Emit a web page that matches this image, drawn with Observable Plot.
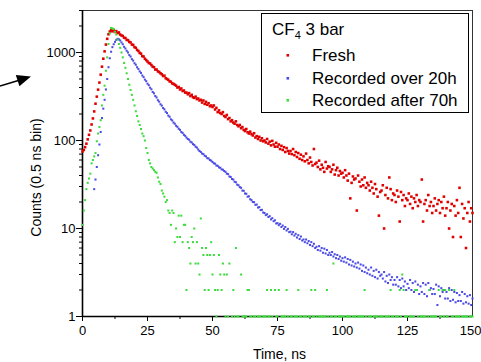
<!DOCTYPE html>
<html><head><meta charset="utf-8">
<script src="https://cdn.jsdelivr.net/npm/d3@7"></script>
<script src="https://cdn.jsdelivr.net/npm/@observablehq/plot@0.6"></script>
<style>body{margin:0;background:#fff}#chart{width:481px;height:362px}</style>
</head><body><div id="chart"></div>
<script>
// time bins: 0.5 ns, starting at 0 ns
const tStart = 0, tStep = 0.5;

const fresh = [
75,78,84,92,103,116,130,152,178,214,
262,315,378,455,560,690,850,1030,1230,1430,
1610,1730,1790,1740,1800,1710,1750,1660,1690,1600,
1560,1540,1470,1460,1390,1380,1320,1300,1230,1220,
1150,1130,1070,1040,990,970,910,900,850,820,
790,760,750,720,690,680,640,640,610,600,
580,565,540,545,510,500,490,470,465,445,
440,430,420,400,405,380,390,365,370,350,
350,335,345,320,330,310,305,315,295,300,
285,290,270,285,260,275,255,265,245,250,
240,250,225,235,210,220,205,200,210,190,
185,195,175,180,165,170,160,155,165,150,
145,150,138,142,132,128,135,124,120,126,
118,114,121,108,112,104,110,100,106,98,
100,95,104,92,97,88,99,90,85,94,
85,90,80,87,78,84,74,82,76,71,
76,70,80,68,74,65,72,62,69,60,
66,58,71,60,55,64,57,52,80,54,
56,50,59,47,53,49,44,57,48,51,
50,44,47,53,41,46,49,40,45,42,
43,38,46,40,35,42,22,33,39,36,
37,16,40,34,30,36,31,38,29,33,
31,27,34,29,25,32,28,23,14,26,
27,31,10,24,29,22,38,28,21,25,
24,20,27,23,12,26,21,24,18,22,
21,25,19,23,17,22,20,24,18,21,
20,36,12,19,21,16,24,18,20,15,
18,22,16,19,21,15,20,17,23,14,
17,20,10,16,19,8,18,14,21,15,
29,8,19,13,17,6,15,20,12,17,
15];

const over20h = [
null,null,null,null,null,null,null,null,null,28,
36,50,68,90,125,180,230,290,380,500,
680,860,1020,1150,1240,1320,1390,1430,1410,1370,
1300,1240,1160,1110,1045,1000,935,898,840,808,
755,726,680,650,610,586,548,525,492,472,
442,425,398,382,356,343,320,308,287,276,
258,249,234,226,212,205,192,186,174,169,
160,155,147,143,136,132,125,122,116,113,
108,104,102,97,95,91,89,85,83,79,
76,74,71,70,67,66,63,62.5,60,59,
57,55,54.5,52,51.5,49.5,49,47,46.5,45,
44,42,41.5,39,38.5,36.5,36,34,33.5,31.5,
31,29.5,29,27,26.8,25,24.8,23,23.2,21.5,
21,20,19.9,18.6,18.7,17.3,17.5,16.2,16.3,15.2,
15,14.2,14.5,13.5,13.8,12.7,13.1,12.1,12.4,11.4,
11.5,10.9,11.3,10.4,10.8,9.9,10.4,9.5,9.9,9.1,
9.2,8.6,9.1,8.3,8.7,7.9,8.4,7.6,8.1,7.3,
7.5,7.0,7.5,6.8,7.2,6.5,7.0,6.3,6.7,6.0,
6.2,5.7,6.3,5.6,6.0,5.3,5.9,5.2,5.7,5.0,
5.3,5.0,5.4,4.8,5.1,4.6,5.0,4.5,4.8,4.3,
4.6,4.2,4.7,4.1,4.5,3.9,4.4,3.8,4.2,3.7,
4.0,3.6,4.1,3.5,3.9,3.3,3.8,3.2,3.6,3.1,
3.4,3.0,3.6,2.9,3.3,2.8,3.4,2.7,3.2,2.9,
3.0,2.7,3.2,2.5,2.9,2.4,3.0,2.6,2.8,2.3,
2.6,2.3,2.8,2.2,2.6,2.1,2.7,2.2,2.5,2.0,
2.35,2.1,2.6,2.0,2.4,1.9,2.5,2.0,2.3,1.8,
2.2,1.9,2.4,1.8,2.3,1.7,2.4,2.0,2.1,1.8,
2.05,1.8,2.3,1.35,2.2,1.7,2.1,1.9,2.0,1.6,
1.9,1.6,2.1,1.5,2.0,1.55,1.9,1.45,1.85,1.5,
1.75,1.5,1.9,1.4,1.8,1.45,1.7,1.4,1.75,1.35,
1.6];

const after70h = [
11,16,21,28,33,37,42,55,60,66,
72,98,120,142,170,250,330,420,620,880,
1250,1650,1900,1880,1850,1720,1600,1400,1250,1130,
1000,880,760,670,580,500,430,375,330,290,
250,215,190,165,150,135,120,112,100,82,
72,60,55,50,48,46,44,43,38,34,
32,27,25,23,20,21,16,15,11,16,
15,7,10,8,14,8,14,7,11,11,
2,7,6,4,8,7,10,4,7,4,
3,13,6,5,2,6,5,2,5,7,
3,5,2,1,2,5,3,2,4,3,
1,3,1,4,0,1,2,1,6,1,
1,0,3,1,1,1,1,2,2,1,
1,0,1,1,0,1,1,1,0,1,
1,1,2,1,1,2,1,0,2,1,
1,2,0,1,1,1,1,2,1,0,
1,1,0,1,1,1,2,1,1,0,
1,1,1,0,1,1,2,1,1,2,
1,0,1,1,1,1,1,1,2,1,
0,1,1,4,1,1,0,1,1,1,
1,1,0,1,1,1,1,0,1,1,
1,0,1,1,1,1,1,2,1,0,
1,1,1,0,1,1,1,1,0,1,
1,1,0,1,1,1,1,2,1,1,
0,1,1,1,2,1,3,2,1,1,
1,0,1,1,1,1,2,2,1,0,
1,1,1,1,1,0,1,2,1,1,
1,1,1,0,2,1,1,2,1,2,
1,1,2,0,1,1,2,1,1,1,
1,0,1,1,1,1,1,0,1,1,
1];

const seriesNames = ["Fresh", "Recorded over 20h", "Recorded after 70h"];
const seriesColors = ["#e00000", "#4b4be6", "#3ddc3d"];
const legendTitle = "CF";
const legendSub = "4";
const legendTitleRest = " 3 bar";
const xTicks = [0, 25, 50, 75, 100, 125];
const xLastTick = [150];
const xMinorTicks = [12.5, 37.5, 62.5, 87.5, 112.5, 137.5];
const yTicks = [1, 10, 100, 1000];
const yMinorTicks = [2,3,4,5,6,7,8,9,20,30,40,50,60,70,80,90,200,300,400,500,600,700,800,900,2000,3000];
const xLabel = "Time, ns";
const yLabel = "Counts (0.5 ns bin)";

const seriesData = [fresh, over20h, after70h];
const rows = [];
seriesData.forEach((arr, k) => arr.forEach((v, i) => {
  if (v != null && v > 0) rows.push({t: tStart + i * tStep, v, s: seriesNames[k]});
}));

const sizes = [1.45, 1.15, 1.15];

const plot = Plot.plot({
  width: 481, height: 362,
  marginLeft: 82, marginRight: 9, marginTop: 10, marginBottom: 46,
  style: {fontFamily: "'Liberation Sans', Arial, sans-serif", fontSize: "13px", color: "#000", background: "#fff"},
  x: {domain: [0, 150]},
  y: {type: "log", domain: [1, 3000]},
  color: {domain: seriesNames, range: seriesColors},
  marks: [
    Plot.frame({stroke: "#333", strokeWidth: 1}),
    Plot.axisX({ticks: xTicks, tickSize: 5, tickPadding: 4, tickFormat: d => String(d), label: null, fontSize: 13}),
    Plot.axisX({ticks: xLastTick, tickSize: 5, tickPadding: 4, tickFormat: d => String(d), label: null, fontSize: 13, textAnchor: "end", dx: 9}),
    Plot.axisX({ticks: xMinorTicks, tickSize: 3, tickFormat: () => "", label: null}),
    Plot.axisY({ticks: yTicks, tickSize: 6, tickPadding: 1, tickFormat: d => String(d), label: null, fontSize: 13}),
    Plot.axisY({ticks: yMinorTicks, tickSize: 3, tickFormat: () => "", label: null}),
    Plot.ruleX([0], {strokeWidth: 1.6, stroke: "#000"}),
    Plot.ruleY([1], {strokeWidth: 1.6, stroke: "#000"}),
    ...seriesNames.map((name, k) =>
      Plot.dot(rows.filter(d => d.s === name), {x: "t", y: "v", fill: "s", symbol: "square", r: sizes[k], stroke: null})
    ),
    Plot.text([yLabel], {text: d => d, frameAnchor: "left", dx: -46, dy: 14, rotate: -90, fontSize: 14, textAnchor: "middle", lineAnchor: "middle"}),
    Plot.text([xLabel], {text: d => d, frameAnchor: "bottom", dx: 2, dy: 38, fontSize: 14, textAnchor: "middle", lineAnchor: "middle"})
  ]
});

document.getElementById("chart").appendChild(plot);

// legend box
const svg = d3.select(plot);
const lg = svg.append("g").attr("font-family", "'Liberation Sans', Arial, sans-serif").attr("text-anchor", "start");
lg.append("rect").attr("x", 261.5).attr("y", 13.5).attr("width", 207).attr("height", 99)
  .attr("fill", "#fff").attr("stroke", "#000").attr("stroke-width", 1);
const title = lg.append("text").attr("x", 272).attr("y", 35).attr("font-size", 17).attr("fill", "#000").attr("text-anchor", "start");
title.append("tspan").text(legendTitle);
title.append("tspan").attr("font-size", 11).attr("dy", 4).text(legendSub);
title.append("tspan").attr("dy", -4).text(legendTitleRest);
const baselines = [61, 84, 106];
seriesNames.forEach((name, i) => {
  lg.append("rect").attr("x", 286.5).attr("y", baselines[i] - 7).attr("width", 2.6).attr("height", 2.6).attr("fill", seriesColors[i]);
  lg.append("text").attr("x", 312).attr("y", baselines[i]).attr("font-size", 17).attr("fill", "#000").attr("text-anchor", "start").text(name);
});

// stray arrow annotation at the left
svg.append("path").attr("d", "M0,86 L20,80").attr("stroke", "#000").attr("stroke-width", 1.5).attr("fill", "none");
svg.append("path").attr("d", "M31,76.5 L15.8,74.9 L19.4,86.3 Z").attr("fill", "#000");
</script>
</body></html>
